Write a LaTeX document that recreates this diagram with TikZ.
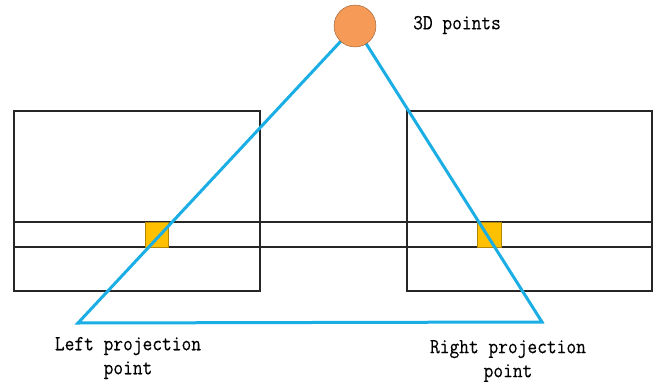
\documentclass[tikz,border=0pt]{standalone}
\usepackage{fontspec}
\newfontfamily\labelfont{Latin Modern Mono}[FakeStretch=0.88, FakeBold=0.3]
\usepackage{tikz}
\usetikzlibrary{positioning,calc}
\usepackage{xcolor}

\definecolor{rayblue}{HTML}{1AAEE5}
\definecolor{pointorange}{HTML}{F59A57}
\definecolor{pixelyellow}{HTML}{FFC000}

\tikzset{
  frame/.style={draw=black!85, line width=1.4pt},
  ray/.style={draw=rayblue, line width=3pt, line join=miter},
  pixel/.style={fill=pixelyellow, draw=pixelyellow!70!black, line width=0.5pt},
  label/.style={font=\labelfont\fontsize{21.5}{24}\selectfont, align=center, inner sep=0pt}
}

\begin{document}
\begin{tikzpicture}[x=1pt, y=-1pt]
                    \useasboundingbox (0,0) rectangle (657,386);

                    % Image planes
                    \draw[frame] (14,111) rectangle (260,291);
                    \draw[frame] (407,111) rectangle (652,291);

                    % Scan line band
                    \draw[frame] (14,222) -- (652,222);
                    \draw[frame] (14,247) -- (652,247);

                    % Matched pixels
                    \draw[pixel] (145,222) rectangle (168,247);
                    \draw[pixel] (477,222) rectangle (501,247);

                    % Projection points
                    \coordinate (leftproj) at (78,323);
                    \coordinate (rightproj) at (542,322);
                    \coordinate (apex) at (355,26);

                    % Rays
                    \draw[ray] (apex) -- (leftproj) -- (rightproj) -- cycle;

                    % 3D point
                    \node[circle, minimum size=42pt, inner sep=0pt, fill=pointorange,
                          draw=pointorange!60!black, line width=0.4pt] (pt3d) at (apex) {};
                    \node[label, anchor=west] (pt3dlabel) at (413,25) {3D points};

                    % Labels
                    \node[label] (leftlabel) at (128,358) {Left projection\\point};
                    \node[label] (rightlabel) at (508,361) {Right projection\\point};
                \end{tikzpicture}
\end{document}
